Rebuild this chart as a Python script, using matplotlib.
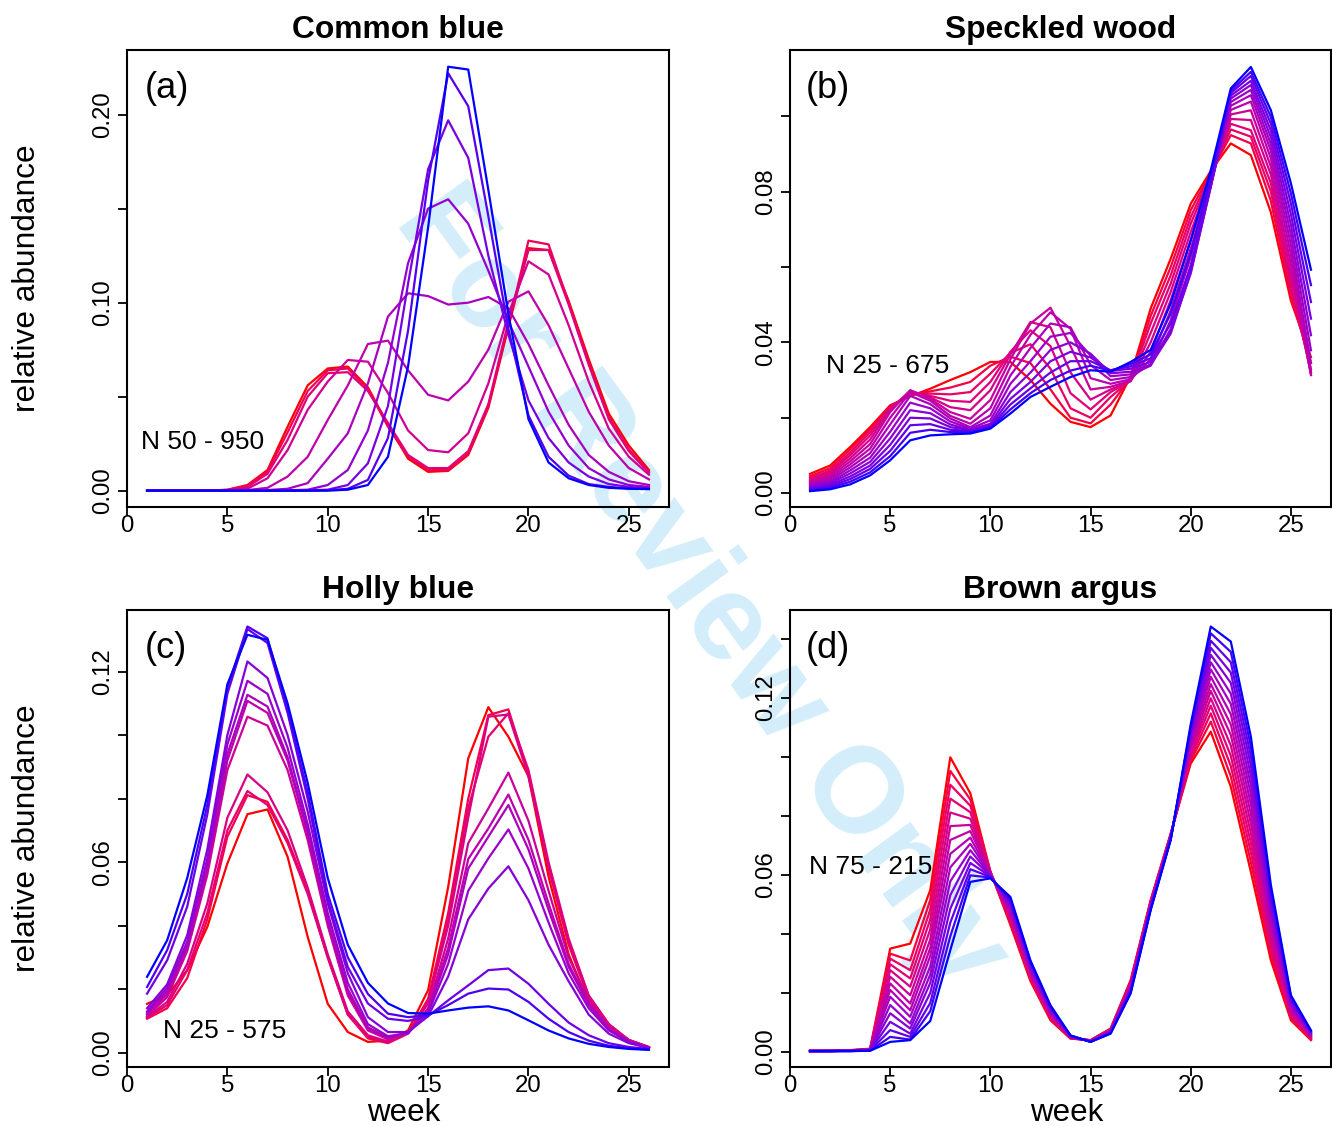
import numpy as np
import matplotlib
matplotlib.use("Agg")
import matplotlib.pyplot as plt

plt.rcParams['font.family'] = ['Liberation Sans', 'DejaVu Sans']

weeks = np.arange(1, 27)

# (a) Common blue: one list per curve, first = red (N 50) ... last = blue (N 950)
common_blue = [
    [0, 0, 0, 0, 0.0005, 0.003, 0.011, 0.034, 0.056, 0.065, 0.066, 0.055, 0.035, 0.017, 0.010, 0.0105, 0.019, 0.044, 0.087, 0.129, 0.128, 0.101, 0.070, 0.041, 0.024, 0.011],
    [0, 0, 0, 0, 0.0004, 0.0025, 0.010, 0.031, 0.053, 0.064, 0.065, 0.054, 0.034, 0.018, 0.011, 0.011, 0.020, 0.045, 0.088, 0.133, 0.131, 0.100, 0.068, 0.039, 0.022, 0.010],
    [0, 0, 0, 0, 0.0003, 0.002, 0.009, 0.027, 0.050, 0.0625, 0.063, 0.053, 0.036, 0.019, 0.012, 0.012, 0.021, 0.046, 0.090, 0.128, 0.128, 0.099, 0.067, 0.038, 0.021, 0.0095],
    [0, 0, 0, 0, 0.0002, 0.001, 0.0066, 0.0216, 0.043, 0.058, 0.0695, 0.0686, 0.052, 0.032, 0.0216, 0.0204, 0.0305, 0.057, 0.094, 0.122, 0.115, 0.088, 0.058, 0.033, 0.018, 0.0085],
    [0, 0, 0, 0, 0, 0.0003, 0.0015, 0.0075, 0.018, 0.0376, 0.056, 0.078, 0.0798, 0.064, 0.051, 0.048, 0.058, 0.075, 0.1005, 0.106, 0.088, 0.065, 0.042, 0.024, 0.012, 0.006],
    [0, 0, 0, 0, 0, 0, 0.0003, 0.001, 0.004, 0.017, 0.0305, 0.057, 0.0926, 0.105, 0.1035, 0.099, 0.100, 0.103, 0.097, 0.078, 0.056, 0.035, 0.019, 0.010, 0.005, 0.003],
    [0, 0, 0, 0, 0, 0, 0, 0.0002, 0.0005, 0.003, 0.011, 0.032, 0.068, 0.121, 0.150, 0.155, 0.142, 0.117, 0.090, 0.066, 0.042, 0.024, 0.012, 0.006, 0.003, 0.002],
    [0, 0, 0, 0, 0, 0, 0, 0, 0.0002, 0.0005, 0.003, 0.0145, 0.045, 0.110, 0.171, 0.197, 0.177, 0.125, 0.083, 0.048, 0.028, 0.015, 0.0075, 0.0035, 0.002, 0.0012],
    [0, 0, 0, 0, 0, 0, 0, 0, 0, 0.0002, 0.001, 0.0057, 0.028, 0.085, 0.165, 0.222, 0.2045, 0.146, 0.086, 0.040, 0.018, 0.008, 0.0035, 0.002, 0.0012, 0.001],
    [0, 0, 0, 0, 0, 0, 0, 0, 0, 0, 0.0005, 0.003, 0.018, 0.066, 0.140, 0.2255, 0.224, 0.160, 0.094, 0.038, 0.015, 0.0066, 0.003, 0.0015, 0.001, 0.0008],
]

# (b) Speckled wood: one row per week, columns red (N 25) ... blue (N 675)
speckled_wood_by_week = [
    [0.0051, 0.0045, 0.0040, 0.0036, 0.0032, 0.0029, 0.0026, 0.0023, 0.0020, 0.0017, 0.0014, 0.0011, 0.0008, 0.0005],
    [0.0073, 0.0066, 0.0060, 0.0055, 0.0050, 0.0045, 0.0040, 0.0035, 0.0030, 0.0026, 0.0022, 0.0018, 0.0014, 0.0010],
    [0.0122, 0.0115, 0.0107, 0.0100, 0.0092, 0.0084, 0.0076, 0.0068, 0.0060, 0.0052, 0.0044, 0.0037, 0.0030, 0.0023],
    [0.0175, 0.0169, 0.0162, 0.0153, 0.0142, 0.0130, 0.0118, 0.0106, 0.0094, 0.0083, 0.0073, 0.0064, 0.0055, 0.0047],
    [0.0233, 0.0230, 0.0228, 0.0225, 0.0222, 0.0215, 0.0200, 0.0182, 0.0163, 0.0145, 0.0128, 0.0112, 0.0098, 0.0087],
    [0.0257, 0.0260, 0.0263, 0.0268, 0.0272, 0.0273, 0.0268, 0.0258, 0.0240, 0.0220, 0.0200, 0.0180, 0.0160, 0.0140],
    [0.0277, 0.0270, 0.0264, 0.0258, 0.0254, 0.0250, 0.0245, 0.0236, 0.0225, 0.0212, 0.0198, 0.0183, 0.0168, 0.0153],
    [0.0300, 0.0280, 0.0262, 0.0245, 0.0228, 0.0215, 0.0205, 0.0198, 0.0190, 0.0182, 0.0175, 0.0168, 0.0162, 0.0156],
    [0.0321, 0.0295, 0.0268, 0.0242, 0.0220, 0.0197, 0.0184, 0.0175, 0.0171, 0.0168, 0.0167, 0.0165, 0.0162, 0.0158],
    [0.0348, 0.0338, 0.0317, 0.0295, 0.0273, 0.0247, 0.0225, 0.0206, 0.0193, 0.0184, 0.0179, 0.0175, 0.0173, 0.0171],
    [0.0348, 0.0362, 0.0372, 0.0375, 0.0368, 0.0355, 0.0335, 0.0312, 0.0290, 0.0268, 0.0250, 0.0235, 0.0222, 0.0211],
    [0.0300, 0.0345, 0.0395, 0.0432, 0.0454, 0.0450, 0.0420, 0.0385, 0.0350, 0.0320, 0.0295, 0.0278, 0.0265, 0.0255],
    [0.0237, 0.0275, 0.0330, 0.0390, 0.0440, 0.0492, 0.0480, 0.0450, 0.0415, 0.0380, 0.0350, 0.0320, 0.0300, 0.0282],
    [0.0189, 0.0200, 0.0225, 0.0265, 0.0320, 0.0390, 0.0436, 0.0440, 0.0425, 0.0400, 0.0375, 0.0350, 0.0325, 0.0308],
    [0.0175, 0.0185, 0.0200, 0.0222, 0.0248, 0.0275, 0.0305, 0.0340, 0.0365, 0.0370, 0.0360, 0.0350, 0.0338, 0.0326],
    [0.0206, 0.0235, 0.0255, 0.0268, 0.0275, 0.0282, 0.0290, 0.0300, 0.0310, 0.0318, 0.0324, 0.0326, 0.0325, 0.0322],
    [0.0310, 0.0305, 0.0300, 0.0298, 0.0297, 0.0298, 0.0302, 0.0308, 0.0315, 0.0322, 0.0330, 0.0336, 0.0342, 0.0348],
    [0.0490, 0.0470, 0.0450, 0.0425, 0.0400, 0.0375, 0.0355, 0.0342, 0.0338, 0.0340, 0.0348, 0.0358, 0.0368, 0.0380],
    [0.0622, 0.0600, 0.0578, 0.0556, 0.0534, 0.0512, 0.0485, 0.0459, 0.0436, 0.0423, 0.0430, 0.0450, 0.0476, 0.0503],
    [0.0768, 0.0751, 0.0733, 0.0715, 0.0693, 0.0671, 0.0649, 0.0627, 0.0605, 0.0587, 0.0583, 0.0600, 0.0636, 0.0671],
    [0.0855, 0.0850, 0.0845, 0.0840, 0.0835, 0.0830, 0.0825, 0.0820, 0.0815, 0.0812, 0.0815, 0.0825, 0.0840, 0.0857],
    [0.0928, 0.0950, 0.0965, 0.0980, 0.0993, 0.1005, 0.1017, 0.1028, 0.1038, 0.1047, 0.1055, 0.1062, 0.1068, 0.1074],
    [0.0897, 0.0928, 0.0946, 0.0963, 0.0990, 0.1016, 0.1039, 0.1056, 0.1070, 0.1083, 0.1094, 0.1107, 0.1118, 0.1131],
    [0.0745, 0.0775, 0.0800, 0.0822, 0.0845, 0.0866, 0.0888, 0.0908, 0.0926, 0.0944, 0.0962, 0.0980, 0.0998, 0.1016],
    [0.0510, 0.0522, 0.0540, 0.0560, 0.0582, 0.0606, 0.0632, 0.0658, 0.0685, 0.0712, 0.0740, 0.0768, 0.0795, 0.0822],
    [0.0361, 0.0345, 0.0330, 0.0320, 0.0315, 0.0313, 0.0322, 0.0345, 0.0379, 0.0419, 0.0463, 0.0507, 0.0552, 0.0593],
]

# (c) Holly blue: one list per curve, red (N 25) ... blue (N 575)
holly_blue = [
    [0.0154, 0.0181, 0.026, 0.0396, 0.0596, 0.0751, 0.0766, 0.0617, 0.0365, 0.0154, 0.0065, 0.0034, 0.0038, 0.0070, 0.0197, 0.0522, 0.0927, 0.1088, 0.0995, 0.087, 0.0554, 0.031, 0.0155, 0.0075, 0.0035, 0.0016],
    [0.0107, 0.0140, 0.0235, 0.042, 0.068, 0.0811, 0.079, 0.067, 0.051, 0.030, 0.012, 0.0045, 0.0030, 0.0060, 0.017, 0.044, 0.080, 0.1063, 0.1081, 0.088, 0.058, 0.034, 0.017, 0.0085, 0.0040, 0.0018],
    [0.0110, 0.0150, 0.026, 0.044, 0.070, 0.0824, 0.078, 0.066, 0.050, 0.030, 0.012, 0.0050, 0.0032, 0.0061, 0.016, 0.042, 0.077, 0.0995, 0.1069, 0.089, 0.060, 0.036, 0.018, 0.009, 0.0040, 0.0018],
    [0.0112, 0.0160, 0.028, 0.047, 0.074, 0.0876, 0.082, 0.070, 0.052, 0.031, 0.013, 0.0055, 0.0035, 0.0062, 0.0155, 0.040, 0.074, 0.1058, 0.1065, 0.087, 0.059, 0.035, 0.018, 0.009, 0.0040, 0.0017],
    [0.0115, 0.0175, 0.032, 0.056, 0.089, 0.1058, 0.103, 0.089, 0.067, 0.040, 0.018, 0.0070, 0.0042, 0.0062, 0.014, 0.036, 0.066, 0.0769, 0.0882, 0.073, 0.051, 0.030, 0.0165, 0.008, 0.0037, 0.0015],
    [0.0120, 0.0185, 0.033, 0.058, 0.092, 0.1108, 0.107, 0.092, 0.069, 0.041, 0.019, 0.0075, 0.0045, 0.0062, 0.0135, 0.033, 0.061, 0.0706, 0.0813, 0.067, 0.047, 0.028, 0.0155, 0.0078, 0.0036, 0.0015],
    [0.0125, 0.0195, 0.034, 0.059, 0.094, 0.1127, 0.109, 0.093, 0.070, 0.042, 0.020, 0.0080, 0.0048, 0.0062, 0.013, 0.031, 0.058, 0.0680, 0.0780, 0.064, 0.045, 0.027, 0.015, 0.0075, 0.0035, 0.0015],
    [0.0130, 0.0205, 0.035, 0.061, 0.097, 0.1171, 0.113, 0.096, 0.072, 0.044, 0.022, 0.0090, 0.0052, 0.0062, 0.0125, 0.028, 0.051, 0.0612, 0.0703, 0.058, 0.041, 0.025, 0.014, 0.007, 0.0035, 0.0015],
    [0.0140, 0.0215, 0.037, 0.064, 0.100, 0.1232, 0.118, 0.100, 0.076, 0.047, 0.025, 0.0112, 0.0065, 0.0065, 0.0115, 0.024, 0.042, 0.0517, 0.0587, 0.048, 0.034, 0.0225, 0.012, 0.006, 0.003, 0.0015],
    [0.0186, 0.0291, 0.046, 0.075, 0.113, 0.1334, 0.129, 0.107, 0.080, 0.048, 0.027, 0.0155, 0.0107, 0.0100, 0.0115, 0.0165, 0.0212, 0.0260, 0.0265, 0.0217, 0.0154, 0.0095, 0.0055, 0.003, 0.0018, 0.0012],
    [0.0207, 0.0323, 0.050, 0.078, 0.115, 0.1342, 0.1305, 0.108, 0.082, 0.050, 0.030, 0.0185, 0.0123, 0.0112, 0.0118, 0.0150, 0.0186, 0.0202, 0.0199, 0.0160, 0.0107, 0.0065, 0.0038, 0.0022, 0.0014, 0.0010],
    [0.0239, 0.0354, 0.055, 0.081, 0.116, 0.1316, 0.130, 0.110, 0.085, 0.055, 0.034, 0.022, 0.0155, 0.0125, 0.0123, 0.0133, 0.0142, 0.0146, 0.0133, 0.0102, 0.0070, 0.0045, 0.0028, 0.0018, 0.0012, 0.0009],
]

# (d) Brown argus: one row per week, columns red (N 75) ... blue (N 215)
brown_argus_by_week = [
    [0.0004, 0.0004, 0.0004, 0.0003, 0.0003, 0.0003, 0.0003, 0.0003, 0.0003, 0.0003, 0.0003, 0.0003, 0.0003, 0.0003, 0.0003],
    [0.0004, 0.0004, 0.0004, 0.0004, 0.0003, 0.0003, 0.0003, 0.0003, 0.0003, 0.0003, 0.0003, 0.0003, 0.0003, 0.0003, 0.0003],
    [0.0006, 0.0006, 0.0005, 0.0005, 0.0005, 0.0005, 0.0004, 0.0004, 0.0004, 0.0004, 0.0004, 0.0003, 0.0003, 0.0003, 0.0003],
    [0.0011, 0.0010, 0.0010, 0.0009, 0.0009, 0.0008, 0.0008, 0.0007, 0.0007, 0.0006, 0.0006, 0.0005, 0.0005, 0.0004, 0.0004],
    [0.0350, 0.0333, 0.0316, 0.0297, 0.0277, 0.0255, 0.0232, 0.0210, 0.0187, 0.0159, 0.0131, 0.0102, 0.0074, 0.0051, 0.0034],
    [0.0367, 0.0310, 0.0277, 0.0249, 0.0221, 0.0192, 0.0164, 0.0141, 0.0119, 0.0096, 0.0079, 0.0062, 0.0051, 0.0042, 0.0040],
    [0.0548, 0.0515, 0.0482, 0.0449, 0.0415, 0.0381, 0.0352, 0.0325, 0.0290, 0.0262, 0.0234, 0.0200, 0.0166, 0.0138, 0.0105],
    [0.0998, 0.0952, 0.0905, 0.0858, 0.0811, 0.0765, 0.0718, 0.0671, 0.0625, 0.0578, 0.0531, 0.0485, 0.0438, 0.0392, 0.0345],
    [0.0876, 0.0855, 0.0834, 0.0812, 0.0790, 0.0769, 0.0748, 0.0726, 0.0705, 0.0683, 0.0662, 0.0640, 0.0619, 0.0598, 0.0576],
    [0.0612, 0.0611, 0.0610, 0.0608, 0.0607, 0.0605, 0.0604, 0.0602, 0.0600, 0.0599, 0.0597, 0.0595, 0.0593, 0.0591, 0.0588],
    [0.0430, 0.0437, 0.0444, 0.0450, 0.0457, 0.0464, 0.0471, 0.0478, 0.0484, 0.0491, 0.0498, 0.0505, 0.0511, 0.0518, 0.0525],
    [0.0240, 0.0245, 0.0250, 0.0255, 0.0260, 0.0265, 0.0270, 0.0275, 0.0280, 0.0285, 0.0290, 0.0295, 0.0300, 0.0305, 0.0310],
    [0.0107, 0.0111, 0.0114, 0.0118, 0.0122, 0.0125, 0.0129, 0.0132, 0.0136, 0.0140, 0.0143, 0.0147, 0.0150, 0.0154, 0.0158],
    [0.0045, 0.0046, 0.0047, 0.0048, 0.0048, 0.0049, 0.0050, 0.0051, 0.0051, 0.0052, 0.0053, 0.0054, 0.0055, 0.0055, 0.0056],
    [0.0040, 0.0040, 0.0039, 0.0039, 0.0038, 0.0038, 0.0037, 0.0037, 0.0036, 0.0036, 0.0036, 0.0035, 0.0035, 0.0034, 0.0034],
    [0.0079, 0.0078, 0.0077, 0.0075, 0.0074, 0.0073, 0.0072, 0.0071, 0.0069, 0.0068, 0.0067, 0.0066, 0.0065, 0.0063, 0.0062],
    [0.0243, 0.0240, 0.0237, 0.0233, 0.0230, 0.0227, 0.0224, 0.0221, 0.0217, 0.0214, 0.0211, 0.0208, 0.0204, 0.0201, 0.0198],
    [0.0514, 0.0512, 0.0509, 0.0507, 0.0504, 0.0502, 0.0500, 0.0497, 0.0495, 0.0492, 0.0490, 0.0488, 0.0485, 0.0483, 0.0480],
    [0.0740, 0.0738, 0.0737, 0.0735, 0.0734, 0.0732, 0.0731, 0.0729, 0.0728, 0.0726, 0.0725, 0.0723, 0.0721, 0.0720, 0.0718],
    [0.0977, 0.0987, 0.0996, 0.1006, 0.1015, 0.1025, 0.1034, 0.1044, 0.1053, 0.1063, 0.1072, 0.1082, 0.1091, 0.1101, 0.1110],
    [0.1085, 0.1119, 0.1147, 0.1173, 0.1198, 0.1223, 0.1246, 0.1271, 0.1296, 0.1320, 0.1345, 0.1369, 0.1393, 0.1418, 0.1441],
    [0.0898, 0.0933, 0.0968, 0.1003, 0.1038, 0.1074, 0.1109, 0.1144, 0.1179, 0.1214, 0.1250, 0.1285, 0.1320, 0.1355, 0.1390],
    [0.0610, 0.0643, 0.0676, 0.0708, 0.0741, 0.0774, 0.0806, 0.0839, 0.0872, 0.0904, 0.0937, 0.0970, 0.1002, 0.1035, 0.1068],
    [0.0310, 0.0328, 0.0346, 0.0365, 0.0383, 0.0401, 0.0419, 0.0437, 0.0456, 0.0474, 0.0492, 0.0510, 0.0528, 0.0547, 0.0565],
    [0.0107, 0.0113, 0.0119, 0.0125, 0.0131, 0.0137, 0.0143, 0.0150, 0.0156, 0.0162, 0.0168, 0.0174, 0.0180, 0.0186, 0.0192],
    [0.0040, 0.0042, 0.0045, 0.0047, 0.0049, 0.0052, 0.0054, 0.0056, 0.0059, 0.0061, 0.0063, 0.0066, 0.0068, 0.0071, 0.0073],
]

titles = ['Common blue', 'Speckled wood', 'Holly blue', 'Brown argus']
letters = ['(a)', '(b)', '(c)', '(d)']
n_ranges = ['N 50 - 950', 'N 25 - 675', 'N 25 - 575', 'N 75 - 215']
x_ticks = [0, 5, 10, 15, 20, 25]
y_ticks = [
    [0.00, 0.05, 0.10, 0.15, 0.20],
    [0.00, 0.02, 0.04, 0.06, 0.08, 0.10],
    [0.00, 0.02, 0.04, 0.06, 0.08, 0.10, 0.12],
    [0.00, 0.02, 0.04, 0.06, 0.08, 0.10, 0.12, 0.14],
]
y_tick_labels = [
    ['0.00', '', '0.10', '', '0.20'],
    ['0.00', '', '0.04', '', '0.08', ''],
    ['0.00', '', '', '0.06', '', '', '0.12'],
    ['0.00', '', '', '0.06', '', '', '0.12', ''],
]

curves = [
    np.array(common_blue),
    np.array(speckled_wood_by_week).T,
    np.array(holly_blue),
    np.array(brown_argus_by_week).T,
]

W, H = 1332, 1126
fig = plt.figure(figsize=(W / 100, H / 100), dpi=100)

# pixel boxes (left, top, right, bottom)
boxes = [(127, 50, 669, 507), (790, 50, 1331, 507),
         (127, 610, 669, 1067), (790, 610, 1331, 1067)]
ylims = [(-0.0087, 0.2344), (-0.0037, 0.1176), (-0.0045, 0.1394), (-0.0051, 0.1497)]
letter_pos = [(145, 88), (806, 88), (145, 648), (806, 648)]
n_pos = [(141, 442), (826, 366), (163, 1031), (809, 867)]

# watermark, behind everything
fig.text(700 / W, 1 - 590 / H, 'For Review Only', rotation=-54, rotation_mode='anchor',
         ha='center', va='center', fontsize=88, fontweight='bold',
         color='#d3eefa', zorder=-5)

for i in range(4):
    l, t, r, b = boxes[i]
    ax = fig.add_axes([l / W, 1 - b / H, (r - l) / W, (b - t) / H])
    ax.set_facecolor('none')
    data = curves[i]
    n = len(data)
    for j in range(n):
        s = j / (n - 1)
        ax.plot(weeks, data[j], color=((1 - s) ** 0.5, 0, s ** 0.5), lw=1.6)
    ax.set_xlim(0, 27)
    ax.set_ylim(*ylims[i])
    ax.set_xticks(x_ticks)
    ax.set_xticklabels([str(v) for v in x_ticks])
    ax.set_yticks(y_ticks[i])
    ax.set_yticklabels(y_tick_labels[i])
    ax.tick_params(direction='out', length=6.5, width=1.3, labelsize=17.3)
    ax.tick_params(axis='x', pad=-1)
    ax.tick_params(axis='y', pad=3, labelrotation=90)
    for lab in ax.get_yticklabels():
        lab.set_va('center')
    for sp in ax.spines.values():
        sp.set_linewidth(1.5)

    cx = (l + r) / 2
    fig.text(cx / W, 1 - (t - 20) / H, titles[i], ha='center', va='center',
             fontsize=22.9, fontweight='bold')
    fig.text(letter_pos[i][0] / W, 1 - letter_pos[i][1] / H, letters[i],
             ha='left', va='center', fontsize=26)
    fig.text(n_pos[i][0] / W, 1 - n_pos[i][1] / H, n_ranges[i],
             ha='left', va='center', fontsize=19)

fig.text(27 / W, 1 - 278.5 / H, 'relative abundance', rotation=90,
         ha='center', va='center', fontsize=22.8)
fig.text(27 / W, 1 - 838.5 / H, 'relative abundance', rotation=90,
         ha='center', va='center', fontsize=22.8)
fig.text(404 / W, 1 - 1113 / H, 'week', ha='center', va='center', fontsize=22.5)
fig.text(1067 / W, 1 - 1113 / H, 'week', ha='center', va='center', fontsize=22.5)

fig.savefig('out.png', dpi=100)
